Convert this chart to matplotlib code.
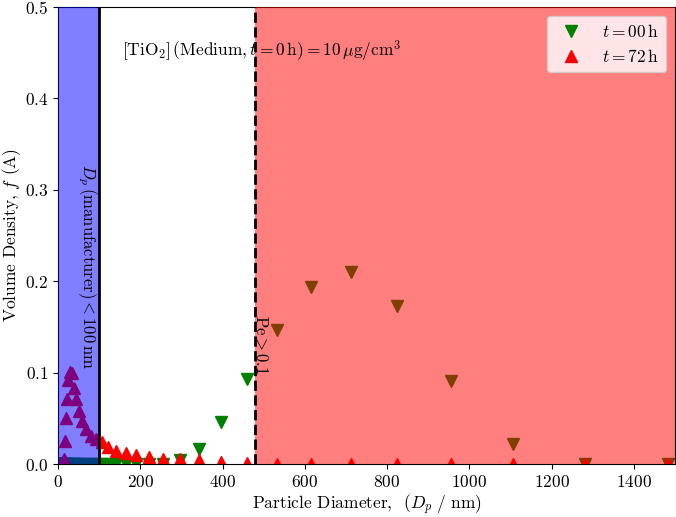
import matplotlib
matplotlib.use("Agg")
import matplotlib.pyplot as plt

plt.rcParams['font.family'] = 'serif'
plt.rcParams['font.serif'] = ['cmr10', 'DejaVu Serif']
plt.rcParams['mathtext.fontset'] = 'cm'
plt.rcParams['axes.formatter.use_mathtext'] = True
plt.rcParams['axes.unicode_minus'] = False

# Size bins (nm)
bins_t0 = [0.4, 0.4632, 0.5365, 0.6213, 0.7195, 0.8332, 0.9649, 1.117, 1.294, 1.499,
           1.736, 2.010, 2.328, 2.696, 3.122, 3.615, 4.187, 4.849, 5.615, 6.503,
           7.531, 8.721, 10.10, 11.70, 13.54, 15.69, 18.17, 21.04, 24.36, 28.21,
           32.67, 37.84, 43.82, 50.75, 58.77, 68.06, 78.82, 91.28, 105.7, 122.4,
           141.8, 164.2, 190.1, 220.2, 255.0, 295.3, 342.0, 396.1, 458.7, 531.2,
           615.1, 712.4, 825.0, 955.4, 1106, 1281, 1484]
f_t0 = [0.0] * 45 + [0.004, 0.016, 0.0456, 0.0935, 0.147, 0.194, 0.210, 0.173,
                     0.0905, 0.0216, 0.0, 0.0]

bins_t72 = [13.54, 15.69, 18.17, 21.04, 24.36, 28.21, 32.67, 37.84, 43.82, 50.75,
            58.77, 68.06, 78.82, 91.28, 105.7, 122.4, 141.8, 164.2, 190.1, 220.2,
            255.0, 295.3, 342.0, 396.1, 458.7, 531.2, 615.1, 712.4, 825.0, 955.4,
            1106, 1281, 1484]
f_t72 = [0.0054, 0.025, 0.050, 0.071, 0.092, 0.101, 0.0995, 0.083, 0.071, 0.058,
         0.047, 0.038, 0.031, 0.027, 0.024, 0.019, 0.014, 0.0115, 0.0097, 0.0079,
         0.006, 0.005, 0.004, 0.002, 0.001, 0.0, 0.0, 0.0, 0.0, 0.0,
         0.0, 0.0, 0.0]

manufacturer_limit = 100
pe_limit = 478

fs = 12.5
fig = plt.figure(figsize=(6.76, 5.17), dpi=100)
ax = fig.add_axes([0.086, 0.1025, 0.9125, 0.884])

ax.plot(bins_t0, f_t0, 'v', color='green', ms=9, ls='none', label=r'$t = 00\,\mathrm{h}$', zorder=2)
ax.plot(bins_t72, f_t72, '^', color='red', ms=9, ls='none', label=r'$t = 72\,\mathrm{h}$', zorder=2)

ax.axvspan(0, manufacturer_limit, color='blue', alpha=0.5, lw=0, zorder=3)
ax.axvspan(pe_limit, 1500, color='red', alpha=0.5, lw=0, zorder=3)
ax.axvline(manufacturer_limit, color='black', lw=2, zorder=4)
ax.axvline(pe_limit, color='black', lw=2, ls='--', zorder=4)

ax.text(70, 0.2166, r'$D_p\,(\mathrm{manufacturer}) < 100\,\mathrm{nm}$', rotation=270,
        ha='center', va='center', fontsize=12, zorder=5)
ax.text(495, 0.13, r'$\mathrm{Pe} > 0.1$', rotation=270, ha='center', va='center',
        fontsize=12, zorder=5)
ax.text(495, 0.4515, r'$[\mathrm{TiO_2}]\,(\mathrm{Medium}, t = 0\,\mathrm{h}) = 10\,\mu\mathrm{g/cm^3}$',
        ha='center', va='center', fontsize=fs, zorder=5)

ax.set_xlim(0, 1500)
ax.set_ylim(0, 0.5)
ax.set_xlabel(r'Particle Diameter,  $(D_p\ /\ \mathrm{nm})$', fontsize=fs, labelpad=2)
ax.set_ylabel(r'Volume Density, $f$ (A)', fontsize=fs, labelpad=1)
ax.tick_params(labelsize=fs)

leg = ax.legend(loc='upper right', fontsize=fs)
leg.set_zorder(6)

fig.savefig('out.png', dpi=100)
